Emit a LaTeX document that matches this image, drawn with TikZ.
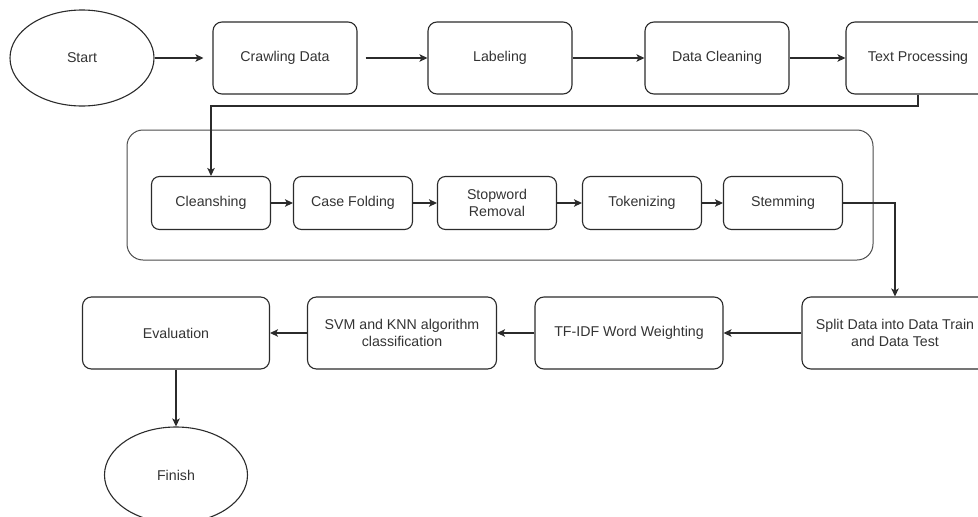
\documentclass[tikz,border=0pt]{standalone}
\usepackage{fontspec}
\setmainfont{Liberation Sans}
\usetikzlibrary{arrows.meta,shapes.geometric}
\definecolor{ln}{HTML}{2B2B2B}
\definecolor{tx}{HTML}{333333}
\begin{document}
\begin{tikzpicture}[x=1pt,y=-1pt,
  base/.style={draw=ln, line width=1.1pt, align=center, text=tx,
    font=\fontsize{14.2}{16.5}\selectfont, inner sep=0pt},
  box/.style={base, rounded corners=9pt, minimum width=144pt, minimum height=72pt},
  sbox/.style={base, rounded corners=8pt, minimum width=119pt, minimum height=53pt},
  oval/.style={base, ellipse, minimum width=144pt, minimum height=96pt},
  arr/.style={draw=ln, line width=1.1pt, -{Stealth[length=8pt,width=7.5pt,inset=2pt]}},
  frame/.style={draw=ln!85, line width=1pt, rounded corners=16pt}]
\useasboundingbox (0,0) rectangle (978,517);
\clip (0,0) rectangle (978,517);
% container
\draw[frame] (127,130) rectangle (873,260);
% top row
\node[oval] (start) at (82,58) {Start};
\node[box] (crawl) at (285,58) {Crawling Data};
\node[box] (label) at (500,58) {Labeling};
\node[box] (clean) at (717,58) {Data Cleaning};
\node[box] (tp) at (918,58) {Text Processing};
% sub steps
\node[sbox] (cl) at (211,203) {Cleanshing};
\node[sbox] (cf) at (353,203) {Case Folding};
\node[sbox] (sw) at (497,203) {Stopword\\Removal};
\node[sbox] (tk) at (642,203) {Tokenizing};
\node[sbox] (st) at (783,203) {Stemming};
% bottom row
\node[box, minimum width=186pt] (split) at (895,333) {Split Data into Data Train\\and Data Test};
\node[box, minimum width=188pt] (tfidf) at (629,333) {TF-IDF Word Weighting};
\node[box, minimum width=189pt] (svm) at (402,333) {SVM and KNN algorithm\\classification};
\node[box, minimum width=187pt] (eval) at (176,333) {Evaluation};
\node[oval, minimum width=143pt] (fin) at (176,475) {Finish};
% connectors
\coordinate (y1) at (0,106);
\draw[arr, shorten >=9pt] (start) -- (crawl);
\draw[arr, shorten <=8pt] (crawl) -- (label);
\draw[arr] (label) -- (clean);
\draw[arr] (clean) -- (tp);
\draw[arr] (tp.south) -- (tp.south |- y1) -| (cl.north);
\draw[arr] (cl) -- (cf);
\draw[arr] (cf) -- (sw);
\draw[arr] (sw) -- (tk);
\draw[arr] (tk) -- (st);
\draw[arr] (st.east) -| (split.north);
\draw[arr] (split) -- (tfidf);
\draw[arr] (tfidf) -- (svm);
\draw[arr] (svm) -- (eval);
\draw[arr] (eval) -- (fin);
\end{tikzpicture}
\end{document}
